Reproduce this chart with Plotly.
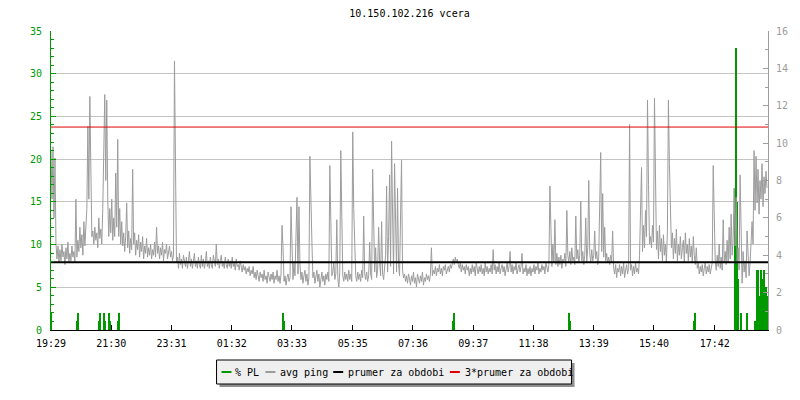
import plotly.graph_objects as go

# ---------------- data ----------------
title_text = "10.150.102.216 vcera"
start_label = "19:29"
x_tick_labels = ["19:29", "21:30", "23:31", "01:32", "03:33", "05:35",
                 "07:36", "09:37", "11:38", "13:39", "15:40", "17:42"]
period_minutes = 1440
ping_step_min = 2

# avg ping [ms], one sample every 2 minutes starting 19:29
avg_ping = [
    9.6, 7.0, 9.8, 6.0, 9.2, 4.6, 3.8, 4.5, 3.6, 4.3, 3.7, 4.6, 3.9, 4.2, 3.5, 4.4, 3.8, 4.7, 3.6, 4.1,
    3.7, 4.5, 3.9, 4.2, 3.6, 7.0, 3.9, 4.8, 4.2, 5.5, 4.4, 5.1, 4.0, 5.8, 4.5, 5.3, 6.5, 10.9, 7.0, 12.5,
    8.0, 5.0, 5.3, 4.6, 5.5, 4.8, 5.2, 4.4, 6.0, 4.9, 5.4, 4.6, 6.5, 9.0, 12.6, 8.0, 12.3, 7.0, 5.0, 6.5,
    5.2, 7.0, 4.8, 6.0, 5.0, 8.4, 5.5, 10.2, 5.0, 6.5, 4.6, 5.8, 4.5, 5.2, 4.2, 5.0, 6.8, 4.4, 5.3, 4.1,
    4.9, 4.3, 8.6, 4.6, 5.2, 4.0, 4.8, 4.3, 5.1, 3.9, 4.7, 4.2, 5.0, 3.8, 4.5, 4.1, 4.9, 3.9, 4.4, 4.0,
    4.6, 3.8, 4.3, 4.0, 4.7, 3.9, 5.5, 4.1, 4.5, 3.8, 4.4, 4.0, 4.7, 3.7, 4.3, 4.1, 4.6, 3.8, 4.2, 4.5,
    3.9, 4.2, 3.7, 4.0, 14.4, 9.5, 3.6, 3.9, 3.3, 4.1, 3.5, 3.8, 3.3, 4.0, 3.6, 3.4, 3.9, 3.3, 3.7, 4.2,
    3.4, 3.8, 3.3, 3.6, 4.1, 3.4, 3.7, 3.3, 3.9, 3.5, 3.3, 4.0, 3.4, 3.8, 3.3, 3.6, 4.2, 3.4, 3.7, 3.3,
    3.9, 3.5, 3.3, 4.0, 3.6, 3.4, 4.6, 3.5, 3.8, 3.3, 3.7, 4.0, 3.4, 3.6, 3.3, 3.9, 3.5, 3.3, 3.8, 3.4,
    3.7, 3.3, 3.9, 3.4, 3.6, 3.2, 3.8, 3.4, 3.5, 3.2, 3.7, 3.3, 3.1, 3.5, 3.2, 3.4, 3.0, 3.3, 3.1, 3.4,
    2.9, 3.2, 3.0, 3.4, 2.8, 3.1, 2.7, 3.2, 2.9, 2.6, 3.1, 2.8, 3.0, 2.6, 3.2, 2.7, 2.9, 2.5, 3.1, 2.8,
    2.6, 3.0, 2.7, 3.1, 2.5, 2.9, 2.7, 3.2, 2.6, 2.9, 2.5, 3.0, 5.6, 4.4, 2.6, 2.9, 2.4, 2.8, 3.0, 2.6,
    2.8, 6.6, 4.3, 2.7, 3.6, 2.9, 5.0, 7.1, 3.0, 6.6, 3.5, 2.7, 3.1, 2.5, 2.9, 3.2, 2.6, 3.0, 2.4, 2.8,
    9.3, 6.2, 4.7, 2.8, 3.1, 2.5, 2.9, 3.2, 2.6, 3.0, 2.3, 2.8, 3.1, 2.6, 2.9, 2.4, 3.0, 2.7, 3.1, 2.6,
    8.8, 5.8, 2.9, 3.1, 3.6, 2.7, 3.0, 5.9, 2.8, 2.3, 3.1, 9.6, 6.3, 2.9, 2.6, 3.1, 2.7, 3.0, 2.6, 3.2,
    2.7, 3.0, 2.6, 10.6, 6.5, 4.8, 2.9, 2.6, 3.1, 2.7, 3.0, 2.6, 3.2, 2.8, 6.1, 3.0, 2.7, 3.1, 2.6, 2.9,
    4.7, 3.0, 2.7, 8.6, 5.8, 3.1, 4.4, 2.8, 3.2, 5.5, 3.6, 2.9, 5.8, 3.0, 2.7, 3.3, 4.0, 7.7, 3.1, 5.0,
    8.3, 3.4, 10.1, 6.2, 3.0, 8.9, 4.4, 3.1, 7.6, 3.5, 2.9, 5.5, 9.1, 3.2, 2.8, 3.0, 2.6, 2.9, 2.5, 3.0,
    2.7, 2.4, 2.9, 2.6, 3.1, 2.5, 2.8, 2.3, 3.0, 2.7, 2.5, 2.9, 2.6, 3.1, 2.4, 2.8, 2.6, 3.0, 2.7, 2.9,
    2.6, 3.0, 4.4, 2.9, 3.2, 3.0, 3.4, 2.9, 3.3, 3.1, 3.5, 3.0, 3.3, 2.9, 3.4, 3.2, 3.5, 3.0, 3.3, 3.4,
    3.1, 3.5, 3.3, 3.6, 3.8, 3.5, 3.9, 3.6, 3.8, 3.5, 3.3, 3.6, 3.1, 3.5, 3.2, 3.4, 3.0, 3.5, 3.2, 3.4,
    2.9, 3.3, 3.0, 3.5, 3.1, 3.4, 2.9, 3.6, 3.2, 3.0, 3.4, 3.1, 3.5, 3.0, 3.3, 2.9, 3.6, 3.1, 3.4, 3.0,
    3.3, 3.1, 3.5, 3.0, 4.3, 3.2, 3.5, 3.0, 3.4, 3.1, 3.6, 3.0, 3.3, 3.5, 3.1, 3.4, 2.9, 3.3, 3.6, 3.1,
    3.4, 4.2, 3.1, 3.5, 3.0, 3.4, 3.2, 3.6, 3.0, 3.3, 3.5, 3.1, 3.4, 4.1, 3.0, 3.3, 3.1, 3.5, 2.9, 3.3,
    3.0, 3.4, 2.9, 3.3, 3.1, 3.5, 3.0, 3.4, 3.2, 3.6, 3.0, 3.3, 3.1, 3.5, 3.2, 3.4, 3.0, 3.6, 3.3, 3.1,
    3.5, 7.7, 5.5, 3.4, 4.6, 3.6, 5.9, 3.5, 4.1, 3.4, 3.9, 3.5, 4.0, 3.3, 3.8, 3.6, 4.1, 3.4, 6.4, 4.0,
    3.6, 4.2, 3.5, 4.4, 3.7, 3.9, 3.5, 6.1, 3.8, 4.3, 3.6, 4.0, 6.9, 3.7, 4.2, 3.5, 4.0, 6.0, 3.6, 4.4,
    8.0, 4.1, 3.6, 4.3, 3.7, 4.0, 5.3, 3.8, 4.2, 3.5, 3.9, 6.4, 9.5, 4.2, 7.3, 3.9, 5.5, 3.7, 4.1, 3.6,
    3.9, 3.5, 4.0, 3.6, 5.3, 3.3, 3.0, 3.5, 2.8, 3.3, 3.1, 3.5, 2.9, 3.4, 3.0, 3.6, 2.8, 3.2, 3.5, 3.0,
    3.3, 11.0, 3.2, 3.5, 2.9, 3.4, 3.0, 3.6, 3.1, 3.3, 3.0, 4.0, 5.9, 8.7, 4.2, 5.6, 4.4, 6.4, 5.0, 12.3,
    7.8, 4.6, 5.0, 4.4, 5.6, 4.7, 12.4, 7.9, 4.3, 5.3, 3.8, 5.6, 4.2, 4.9, 3.7, 5.1, 4.0, 4.6, 3.6, 5.3,
    12.3, 8.9, 7.2, 4.4, 5.2, 3.8, 4.9, 4.1, 5.4, 3.7, 4.6, 4.0, 5.0, 3.8, 4.4, 4.8, 3.6, 5.2, 4.1, 4.6,
    3.7, 4.9, 3.9, 4.5, 3.6, 5.0, 4.0, 3.5, 4.4, 3.3, 3.6, 3.0, 3.4, 3.1, 3.5, 2.9, 3.3, 3.6, 3.0, 3.4,
    3.1, 3.5, 3.0, 3.3, 3.6, 8.8, 6.2, 3.7, 3.2, 4.0, 3.4, 4.6, 3.3, 3.9, 3.2, 5.9, 3.6, 4.2, 3.5, 4.8,
    3.6, 5.5, 3.8, 6.2, 4.0, 4.9, 7.6, 4.5, 7.1, 3.6, 4.4, 3.2, 8.3, 3.8, 2.5, 4.2, 3.1, 3.7, 2.8, 5.3,
    3.4, 2.9, 3.6, 4.5, 5.8, 4.6, 9.6, 6.4, 9.3, 6.8, 8.6, 6.2, 8.0, 7.0, 8.9, 6.6, 8.2, 7.3, 8.5, 7.6,
]

# packet loss [%] (minutes after 19:29 where non-zero)
pl_minutes = [0, 52, 54, 96, 98, 106, 108, 116, 118, 134, 136, 466, 468,
              808, 810, 1040, 1042, 1292, 1294, 1374, 1376, 1378, 1380,
              1386, 1398, 1414, 1416, 1418, 1420, 1422, 1424, 1426, 1428,
              1430, 1432, 1434, 1436, 1438]
pl_values = [2, 1, 2, 1, 2, 2, 1, 2, 1, 1, 2, 2, 1,
             1, 2, 2, 1, 1, 2, 16.5, 33, 15, 6,
             2, 2, 1, 1, 7, 7, 3, 4, 7, 6,
             5, 7, 4, 5, 4]

period_avg_ping = 3.62  # prumer za obdobi [ms]

legend_labels = ["% PL", "avg ping", "prumer za obdobi", "3*prumer za obdobi"]

# ---------------- styles ----------------
GREEN = "#009900"
GRAY = "#9c9c9c"
BLACK = "#000000"
RED = "#e00000"
FONT = "DejaVu Sans Mono"

W, H = 800, 400
L, R, T, B = 51, 30, 31, 70
PW, PH = W - L - R, H - T - B


def hm_to_min(s):
    h, m = map(int, s.split(":"))
    return h * 60 + m


start = hm_to_min(start_label)
tickvals = [(hm_to_min(s) - start) % period_minutes for s in x_tick_labels]
ping_x = [i * ping_step_min for i in range(len(avg_ping))]
triple_avg = 3 * period_avg_ping

fig = go.Figure()

fig.add_trace(go.Bar(x=pl_minutes, y=pl_values, width=2.0,
                     marker=dict(color=GREEN, line=dict(width=0)),
                     name=legend_labels[0], yaxis="y", showlegend=False))
fig.add_trace(go.Scatter(x=ping_x, y=avg_ping, mode="lines",
                         line=dict(color=GRAY, width=1),
                         name=legend_labels[1], yaxis="y2", showlegend=False))
fig.add_trace(go.Scatter(x=[0, period_minutes], y=[period_avg_ping] * 2,
                         mode="lines", line=dict(color=BLACK, width=2),
                         name=legend_labels[2], yaxis="y2", showlegend=False))
fig.add_trace(go.Scatter(x=[0, period_minutes], y=[triple_avg] * 2,
                         mode="lines", line=dict(color=RED, width=1),
                         name=legend_labels[3], yaxis="y2", showlegend=False))


def px(xp):
    return (xp - L) / PW


def py(yp):
    return (H - B - yp) / PH


# ---- custom legend box ----
shapes = []
annotations = []
bx0, bx1, by0, by1 = 217, 573, 360, 384
shapes.append(dict(type="rect", xref="paper", yref="paper",
                   x0=px(bx0 + 3), x1=px(bx1 + 3), y0=py(by1 + 3), y1=py(by0 + 3),
                   fillcolor="#909090", line=dict(width=0), layer="above"))
shapes.append(dict(type="rect", xref="paper", yref="paper",
                   x0=px(bx0), x1=px(bx1), y0=py(by1), y1=py(by0),
                   fillcolor="#efefef", line=dict(color=BLACK, width=1), layer="above"))
sw_x = [222, 266, 334, 451]
txt_x = [235, 280, 348, 465]
sw_col = [GREEN, GRAY, BLACK, RED]
ly = 372
for sx, tx, c, lab in zip(sw_x, txt_x, sw_col, legend_labels):
    shapes.append(dict(type="line", xref="paper", yref="paper",
                       x0=px(sx), x1=px(sx + 10), y0=py(ly), y1=py(ly),
                       line=dict(color=c, width=2), layer="above"))
    annotations.append(dict(xref="paper", yref="paper", x=px(tx - 1), y=py(ly),
                            xanchor="left", yanchor="middle", showarrow=False,
                            text=lab, font=dict(family=FONT, size=10, color=BLACK)))

fig.update_layout(
    width=W, height=H,
    margin=dict(l=L, r=R, t=T, b=B, pad=0),
    paper_bgcolor="white", plot_bgcolor="white",
    showlegend=False,
    bargap=0,
    title=dict(text=title_text, x=0.5, xref="paper", y=1 - 13 / H, yref="container",
               xanchor="center", yanchor="middle",
               font=dict(family=FONT, size=10, color=BLACK)),
    font=dict(family=FONT, size=10),
    xaxis=dict(range=[0, period_minutes], tickvals=tickvals, ticktext=x_tick_labels,
               ticks="inside", ticklen=5, tickcolor=BLACK, showline=True,
               linecolor=BLACK, linewidth=1, showgrid=False, zeroline=False,
               tickfont=dict(family=FONT, size=10, color=BLACK),
               ticklabelstandoff=4),
    yaxis=dict(range=[0, 35], dtick=5, tick0=0, ticks="inside", ticklen=5,
               tickcolor=GREEN, showline=True, linecolor=GREEN, linewidth=1,
               showgrid=True, gridcolor="#c4c4c4", gridwidth=1, zeroline=False,
               tickfont=dict(family=FONT, size=10, color=GREEN),
               ticklabelstandoff=6,
               minor=dict(dtick=1, tick0=0, ticks="inside", ticklen=3,
                          tickcolor=GREEN, showgrid=False)),
    yaxis2=dict(range=[0, 16], dtick=2, tick0=0, overlaying="y", side="right",
                ticks="inside", ticklen=5, tickcolor=GRAY, showline=True,
                linecolor=GRAY, linewidth=1, showgrid=False, zeroline=False,
                tickfont=dict(family=FONT, size=10, color=GRAY),
                ticklabelstandoff=5,
                minor=dict(dtick=1, tick0=0, ticks="inside", ticklen=3,
                           tickcolor=GRAY, showgrid=False)),
    shapes=shapes,
    annotations=annotations,
)

fig.write_html("out.html", config={"displayModeBar": False},
               post_script="document.body.style.margin='0';document.body.style.padding='0';")
